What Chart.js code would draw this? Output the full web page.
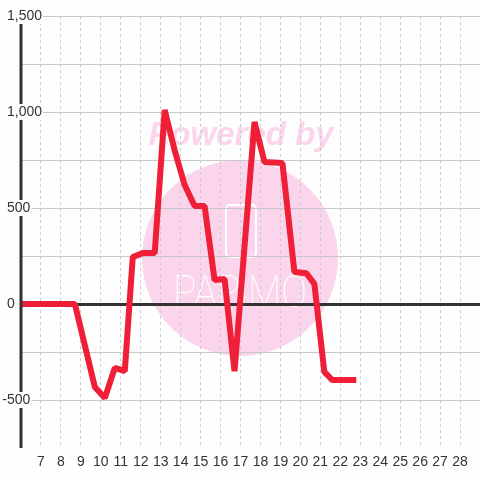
<!DOCTYPE html>
<html>
<head>
<meta charset="utf-8">
<script src="https://cdn.jsdelivr.net/npm/chart.js@4/dist/chart.umd.min.js"></script>
<style>
  html, body { margin: 0; padding: 0; background: #fdfefd; }
  #wrap { width: 480px; height: 480px; }
</style>
</head>
<body>
<div id="wrap"><canvas id="lineChart"></canvas></div>
<script>
// data (x = day, y = value)
const days = [5, 8.7, 9.7, 10.2, 10.7, 11.2, 11.6, 12.1, 12.7, 13.2, 13.7, 14.2, 14.7, 15.2, 15.7, 16.2, 16.7, 17.7, 18.2, 19.1, 19.7, 20.3, 20.7, 21.2, 21.6, 22.8];
const values = [0, 0, -432, -490, -333, -350, 245, 265, 265, 1010, 800, 620, 510, 510, 125, 130, -350, 948, 740, 734, 167, 160, 105, -354, -396, -396];
const xLabels = [7, 8, 9, 10, 11, 12, 13, 14, 15, 16, 17, 18, 19, 20, 21, 22, 23, 24, 25, 26, 27, 28];
const yLabels = [1500, 1000, 500, 0, -500];

const points = days.map(function (d, i) { return { x: d, y: values[i] }; });
const FONT = '"Liberation Sans", Arial, sans-serif';

// pink "powered by" watermark behind everything
const watermark = {
    id: 'watermark',
    beforeDraw: function (chart) {
        const ctx = chart.ctx;
        ctx.save();
        ctx.fillStyle = '#fdfefd';
        ctx.fillRect(0, 0, chart.width, chart.height);
        ctx.fillStyle = '#fbd5eb';
        ctx.beginPath();
        ctx.arc(240, 258, 98, 0, Math.PI * 2);
        ctx.fill();
        ctx.font = 'italic bold 33px ' + FONT;
        ctx.textAlign = 'center';
        ctx.textBaseline = 'alphabetic';
        ctx.fillText('Powered by', 241, 145);
        ctx.strokeStyle = '#ffffff';
        ctx.lineWidth = 2;
        ctx.beginPath();
        ctx.roundRect(226, 205, 30, 52, 4);
        ctx.stroke();
        // logo word, squeezed to its width in the picture
        ctx.fillStyle = '#ffffff';
        ctx.font = '100 45px Roboto, ' + FONT;
        ctx.textAlign = 'left';
        const w = ctx.measureText('PAPiMO').width;
        ctx.translate(173, 307);
        ctx.scale(134 / w, 1);
        ctx.fillText('PAPiMO', 0, 0);
        ctx.restore();
    }
};

// y axis line and its labels sitting on top of the line
const yAxisOverlay = {
    id: 'yAxisOverlay',
    afterDatasetsDraw: function (chart) {
        const ctx = chart.ctx;
        const y = chart.scales.y;
        const area = chart.chartArea;
        ctx.save();
        ctx.strokeStyle = '#333333';
        ctx.lineWidth = 3;
        ctx.beginPath();
        ctx.moveTo(area.left, area.top);
        ctx.lineTo(area.left, area.bottom);
        ctx.stroke();
        ctx.font = '14px ' + FONT;
        ctx.textBaseline = 'middle';
        ctx.textAlign = 'left';
        yLabels.forEach(function (v) {
            const text = v.toLocaleString('en-US');
            const py = y.getPixelForValue(v);
            let px = 7;
            if (v < 0) px -= ctx.measureText('-').width;
            const w = ctx.measureText(text).width;
            ctx.fillStyle = '#fdfefd';
            ctx.fillRect(px - 2, py - 8, w + 3, 16);
            ctx.fillStyle = '#333333';
            ctx.fillText(text, px, py);
        });
        ctx.restore();
    }
};

new Chart(document.getElementById('lineChart').getContext('2d'), {
    type: 'line',
    data: {
        datasets: [
            {
                label: 'value',
                data: points,
                borderColor: '#ee1f36',
                borderWidth: 6,
                borderJoinStyle: 'bevel',
                pointRadius: 0,
                tension: 0,
                fill: false
            }
        ]
    },
    options: {
        responsive: true,
        maintainAspectRatio: false,
        animation: false,
        layout: { padding: { top: 16, left: 0, right: 0, bottom: 0 } },
        plugins: {
            legend: { display: false },
            tooltip: { enabled: false }
        },
        scales: {
            x: {
                type: 'linear',
                min: 6,
                max: 29,
                afterFit: function (scale) {
                    scale.height = 32;
                    scale.paddingLeft = 0;
                    scale.paddingRight = 0;
                },
                grid: {
                    color: '#cccccc',
                    lineWidth: 1,
                    drawTicks: false
                },
                border: { display: false, dash: [3, 3] },
                ticks: {
                    stepSize: 1,
                    autoSkip: false,
                    maxRotation: 0,
                    padding: 6,
                    color: '#333333',
                    font: { size: 14, family: FONT },
                    callback: function (v) { return xLabels.indexOf(v) >= 0 ? String(v) : ''; }
                }
            },
            y: {
                min: -750,
                max: 1500,
                afterFit: function (scale) {
                    scale.width = 21;
                    scale.paddingTop = 0;
                    scale.paddingBottom = 0;
                },
                border: { display: false },
                grid: {
                    drawTicks: false,
                    color: function (c) {
                        if (c.tick.value === 0) return '#333333';
                        if (c.tick.value === -750) return 'rgba(0,0,0,0)';
                        return '#c8c8c8';
                    },
                    lineWidth: function (c) { return c.tick.value === 0 ? 3 : 1; }
                },
                ticks: {
                    stepSize: 250,
                    display: false
                }
            }
        }
    },
    plugins: [watermark, yAxisOverlay]
});
</script>
</body>
</html>
